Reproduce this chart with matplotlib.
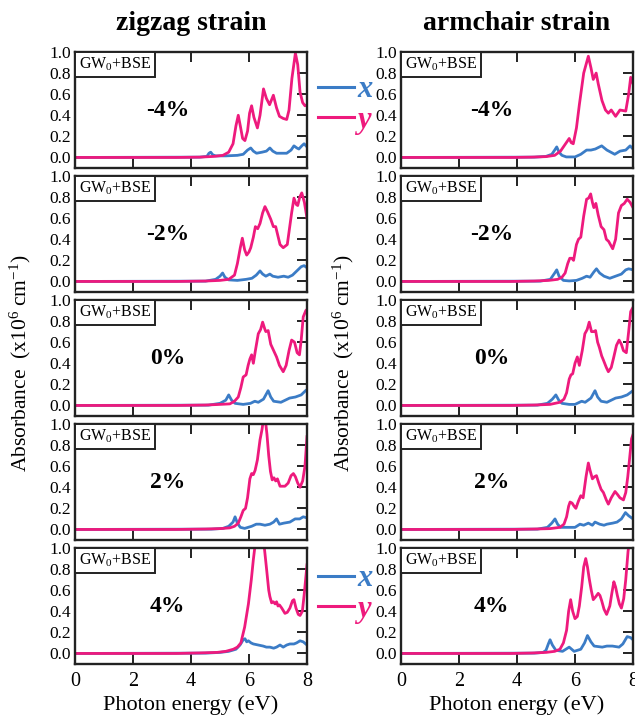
import numpy as np
import matplotlib
matplotlib.use('Agg')
import matplotlib.pyplot as plt
from matplotlib.lines import Line2D
from matplotlib.offsetbox import AnchoredText

plt.rcParams['font.family'] = 'Liberation Serif'
plt.rcParams['mathtext.fontset'] = 'custom'
plt.rcParams['mathtext.rm'] = 'Liberation Serif'
plt.rcParams['mathtext.it'] = 'Liberation Serif:italic'
plt.rcParams['mathtext.bf'] = 'Liberation Serif:bold'

# (energy eV, absorbance)
zz_m4_x = [(0, 0), (4.3, 0.003), (4.55, 0.01), (4.62, 0.04), (4.68, 0.05), (4.75, 0.025), (4.85, 0.015),
           (5.2, 0.015), (5.6, 0.02), (5.8, 0.03), (5.95, 0.07), (6.06, 0.09), (6.15, 0.06), (6.26, 0.04),
           (6.45, 0.05), (6.6, 0.06), (6.72, 0.09), (6.82, 0.06), (6.95, 0.04), (7.3, 0.04), (7.45, 0.07),
           (7.55, 0.11), (7.65, 0.09), (7.72, 0.08), (7.82, 0.11), (7.9, 0.13), (8, 0.10)]
zz_m4_y = [(0, 0), (3.5, 0), (4.3, 0.003), (4.8, 0.01), (5.1, 0.02), (5.3, 0.05), (5.45, 0.13), (5.55, 0.3),
           (5.63, 0.40), (5.7, 0.3), (5.78, 0.18), (5.86, 0.16), (5.95, 0.25), (6.02, 0.42), (6.09, 0.49),
           (6.17, 0.38), (6.29, 0.28), (6.38, 0.4), (6.5, 0.65), (6.6, 0.56), (6.71, 0.50), (6.84, 0.59),
           (6.95, 0.47), (7.05, 0.39), (7.18, 0.37), (7.3, 0.36), (7.38, 0.45), (7.48, 0.75), (7.6, 0.99),
           (7.68, 0.88), (7.76, 0.62), (7.85, 0.52), (7.93, 0.49), (8, 0.5)]

zz_m2_x = [(0, 0), (4.5, 0.003), (4.85, 0.02), (5.0, 0.05), (5.09, 0.08), (5.17, 0.04), (5.3, 0.015),
           (5.6, 0.01), (5.9, 0.02), (6.1, 0.03), (6.25, 0.06), (6.38, 0.10), (6.47, 0.07), (6.58, 0.05),
           (6.72, 0.07), (6.82, 0.05), (7.0, 0.04), (7.2, 0.05), (7.35, 0.04), (7.5, 0.06), (7.65, 0.1),
           (7.8, 0.14), (7.9, 0.15), (8, 0.13)]
zz_m2_y = [(0, 0), (3.5, 0), (4.5, 0.004), (5.0, 0.01), (5.3, 0.02), (5.5, 0.06), (5.6, 0.17), (5.7, 0.32),
           (5.77, 0.41), (5.85, 0.3), (5.92, 0.25), (6.0, 0.28), (6.06, 0.32), (6.15, 0.42), (6.22, 0.52),
           (6.3, 0.5), (6.38, 0.55), (6.47, 0.65), (6.55, 0.71), (6.64, 0.66), (6.75, 0.59), (6.84, 0.52),
           (6.92, 0.52), (7.07, 0.35), (7.18, 0.32), (7.32, 0.35), (7.47, 0.65), (7.55, 0.79), (7.63, 0.73),
           (7.68, 0.72), (7.75, 0.8), (7.82, 0.84), (7.91, 0.75), (8, 0.6)]

zz_0_x = [(0, 0), (4.6, 0.003), (5.0, 0.02), (5.2, 0.05), (5.3, 0.1), (5.4, 0.05), (5.52, 0.02), (5.8, 0.01),
          (6.05, 0.02), (6.2, 0.04), (6.32, 0.03), (6.5, 0.06), (6.6, 0.11), (6.66, 0.14), (6.75, 0.08),
          (6.85, 0.04), (7.1, 0.03), (7.25, 0.05), (7.4, 0.07), (7.6, 0.08), (7.8, 0.1), (7.95, 0.14), (8, 0.15)]
zz_0_y = [(0, 0), (3.5, 0), (4.5, 0.004), (5.0, 0.01), (5.34, 0.015), (5.5, 0.04), (5.63, 0.08), (5.72, 0.17),
          (5.8, 0.27), (5.9, 0.29), (5.97, 0.38), (6.03, 0.44), (6.09, 0.48), (6.15, 0.4), (6.22, 0.52),
          (6.32, 0.68), (6.4, 0.72), (6.47, 0.79), (6.55, 0.72), (6.58, 0.7), (6.66, 0.71), (6.75, 0.58),
          (6.85, 0.52), (6.95, 0.46), (7.05, 0.38), (7.18, 0.32), (7.28, 0.38), (7.38, 0.52), (7.47, 0.62),
          (7.57, 0.6), (7.66, 0.5), (7.74, 0.48), (7.8, 0.62), (7.87, 0.84), (7.96, 0.9), (8, 0.91)]

zz_2_x = [(0, 0), (4.7, 0.003), (5.1, 0.01), (5.3, 0.03), (5.45, 0.07), (5.52, 0.12), (5.6, 0.06), (5.7, 0.02),
          (5.85, 0.01), (6.09, 0.03), (6.25, 0.05), (6.38, 0.05), (6.55, 0.04), (6.72, 0.05), (6.85, 0.07),
          (6.95, 0.1), (7.05, 0.05), (7.2, 0.06), (7.41, 0.07), (7.59, 0.1), (7.75, 0.1), (7.87, 0.12), (8, 0.11)]
zz_2_y = [(0, 0), (3.5, 0), (4.5, 0.004), (5.0, 0.008), (5.34, 0.015), (5.5, 0.03), (5.63, 0.06), (5.72, 0.12),
          (5.8, 0.18), (5.88, 0.2), (5.95, 0.3), (6.03, 0.48), (6.09, 0.53), (6.15, 0.52), (6.21, 0.56),
          (6.29, 0.66), (6.38, 0.85), (6.45, 0.95), (6.5, 1.05), (6.56, 1.05), (6.62, 0.9), (6.68, 0.7),
          (6.74, 0.55), (6.8, 0.47), (6.86, 0.49), (6.92, 0.46), (6.98, 0.48), (7.07, 0.41), (7.24, 0.41),
          (7.35, 0.44), (7.45, 0.51), (7.53, 0.53), (7.6, 0.5), (7.68, 0.44), (7.76, 0.40), (7.85, 0.46),
          (7.93, 0.6), (8, 0.88)]

zz_4_x = [(0, 0), (4.5, 0.003), (5.0, 0.01), (5.3, 0.02), (5.55, 0.04), (5.69, 0.08), (5.8, 0.13), (5.86, 0.14),
          (5.92, 0.11), (5.98, 0.12), (6.07, 0.1), (6.15, 0.09), (6.32, 0.08), (6.49, 0.07), (6.6, 0.06),
          (6.72, 0.06), (6.85, 0.05), (6.95, 0.06), (7.07, 0.08), (7.18, 0.06), (7.3, 0.08), (7.41, 0.09),
          (7.55, 0.09), (7.64, 0.1), (7.76, 0.12), (7.87, 0.11), (8, 0.08)]
zz_4_y = [(0, 0), (3.5, 0), (4.3, 0.005), (4.9, 0.01), (5.2, 0.02), (5.46, 0.04), (5.6, 0.06), (5.72, 0.1),
          (5.85, 0.25), (5.98, 0.47), (6.08, 0.7), (6.15, 0.89), (6.22, 1.05), (6.3, 1.2), (6.45, 1.2),
          (6.53, 1.0), (6.61, 0.79), (6.68, 0.6), (6.72, 0.54), (6.78, 0.48), (6.84, 0.49), (6.9, 0.47),
          (6.95, 0.49), (7.0, 0.45), (7.05, 0.46), (7.13, 0.43), (7.24, 0.38), (7.32, 0.39), (7.41, 0.43),
          (7.5, 0.5), (7.55, 0.51), (7.62, 0.43), (7.7, 0.37), (7.76, 0.36), (7.84, 0.4), (7.9, 0.55), (8, 0.84)]

ac_m4_x = [(0, 0), (4.6, 0.003), (5.0, 0.01), (5.2, 0.03), (5.3, 0.07), (5.37, 0.10), (5.45, 0.05),
           (5.55, 0.02), (5.7, 0.005), (6.0, 0.005), (6.2, 0.03), (6.4, 0.07), (6.55, 0.07), (6.7, 0.08),
           (6.92, 0.11), (7.1, 0.07), (7.37, 0.03), (7.55, 0.06), (7.75, 0.07), (7.9, 0.11), (8, 0.08)]
ac_m4_y = [(0, 0), (3.8, 0), (4.5, 0.003), (5.0, 0.008), (5.3, 0.02), (5.5, 0.06), (5.6, 0.1), (5.7, 0.14),
           (5.8, 0.18), (5.87, 0.14), (5.94, 0.13), (6.05, 0.28), (6.15, 0.5), (6.3, 0.8), (6.46, 0.96),
           (6.55, 0.85), (6.63, 0.74), (6.73, 0.80), (6.8, 0.7), (6.93, 0.54), (7.05, 0.45), (7.15, 0.42),
           (7.25, 0.45), (7.4, 0.39), (7.55, 0.45), (7.75, 0.44), (7.85, 0.6), (7.92, 0.76), (8, 0.7)]

ac_m2_x = [(0, 0), (4.8, 0.003), (5.15, 0.02), (5.3, 0.08), (5.37, 0.11), (5.45, 0.05), (5.6, 0.01),
           (5.8, 0.005), (6.05, 0.01), (6.25, 0.03), (6.4, 0.05), (6.52, 0.04), (6.65, 0.09), (6.74, 0.12),
           (6.85, 0.08), (7.0, 0.05), (7.2, 0.03), (7.4, 0.05), (7.6, 0.07), (7.75, 0.11), (7.85, 0.12), (8, 0.11)]
ac_m2_y = [(0, 0), (3.8, 0), (4.6, 0.004), (5.1, 0.01), (5.4, 0.02), (5.55, 0.04), (5.66, 0.08), (5.75, 0.17),
           (5.82, 0.22), (5.89, 0.22), (5.95, 0.2), (6.05, 0.35), (6.12, 0.4), (6.2, 0.42), (6.3, 0.62),
           (6.4, 0.78), (6.47, 0.79), (6.54, 0.83), (6.6, 0.75), (6.65, 0.70), (6.72, 0.74), (6.8, 0.63),
           (6.9, 0.52), (7.0, 0.49), (7.08, 0.4), (7.16, 0.38), (7.3, 0.31), (7.4, 0.4), (7.5, 0.65),
           (7.6, 0.72), (7.7, 0.74), (7.8, 0.78), (7.9, 0.75), (8, 0.70)]

ac_0_x = [(0, 0), (4.7, 0.003), (5.05, 0.02), (5.22, 0.06), (5.34, 0.1), (5.44, 0.05), (5.55, 0.02), (5.8, 0.01),
          (6.0, 0.01), (6.23, 0.04), (6.35, 0.03), (6.55, 0.07), (6.69, 0.14), (6.78, 0.08), (6.9, 0.04),
          (7.1, 0.03), (7.25, 0.05), (7.4, 0.07), (7.6, 0.08), (7.8, 0.1), (7.95, 0.13), (8, 0.14)]
ac_0_y = [(0, 0), (3.8, 0), (4.6, 0.004), (5.14, 0.01), (5.48, 0.03), (5.62, 0.06), (5.71, 0.12), (5.8, 0.25),
          (5.86, 0.29), (5.92, 0.3), (6.0, 0.4), (6.08, 0.46), (6.15, 0.38), (6.25, 0.52), (6.34, 0.68),
          (6.42, 0.72), (6.49, 0.79), (6.57, 0.7), (6.64, 0.7), (6.71, 0.71), (6.78, 0.6), (6.84, 0.55),
          (6.92, 0.47), (6.98, 0.43), (7.08, 0.36), (7.15, 0.32), (7.25, 0.36), (7.33, 0.45), (7.43, 0.57),
          (7.52, 0.62), (7.6, 0.58), (7.67, 0.52), (7.77, 0.5), (7.85, 0.7), (7.92, 0.89), (8, 0.93)]

ac_2_x = [(0, 0), (4.7, 0.003), (5.05, 0.02), (5.2, 0.06), (5.31, 0.1), (5.4, 0.05), (5.5, 0.02), (5.8, 0.02),
          (6.0, 0.02), (6.17, 0.05), (6.3, 0.04), (6.46, 0.06), (6.6, 0.04), (6.69, 0.07), (6.85, 0.05),
          (7.0, 0.04), (7.1, 0.05), (7.3, 0.06), (7.45, 0.07), (7.6, 0.1), (7.74, 0.16), (7.85, 0.13), (8, 0.10)]
ac_2_y = [(0, 0), (3.8, 0), (4.6, 0.004), (5.14, 0.008), (5.48, 0.02), (5.62, 0.05), (5.71, 0.12), (5.78, 0.22),
          (5.83, 0.26), (5.9, 0.25), (5.97, 0.22), (6.03, 0.2), (6.12, 0.27), (6.2, 0.32), (6.28, 0.3),
          (6.38, 0.5), (6.46, 0.63), (6.52, 0.56), (6.6, 0.48), (6.67, 0.5), (6.74, 0.51), (6.82, 0.44),
          (6.9, 0.38), (6.98, 0.35), (7.08, 0.28), (7.15, 0.24), (7.25, 0.3), (7.38, 0.36), (7.47, 0.33),
          (7.55, 0.3), (7.67, 0.28), (7.75, 0.35), (7.82, 0.5), (7.9, 0.72), (7.95, 0.86), (8, 0.9)]

ac_4_x = [(0, 0), (4.6, 0.003), (4.9, 0.01), (5.0, 0.03), (5.08, 0.09), (5.14, 0.13), (5.22, 0.08), (5.34, 0.03),
          (5.57, 0.02), (5.8, 0.06), (5.97, 0.02), (6.2, 0.04), (6.33, 0.1), (6.43, 0.17), (6.55, 0.11),
          (6.66, 0.07), (6.94, 0.06), (7.1, 0.07), (7.29, 0.07), (7.52, 0.06), (7.65, 0.09), (7.8, 0.16),
          (7.92, 0.15), (8, 0.13)]
ac_4_y = [(0, 0), (3.8, 0), (4.5, 0.004), (5.0, 0.01), (5.3, 0.02), (5.48, 0.04), (5.6, 0.1), (5.71, 0.22),
          (5.78, 0.4), (5.85, 0.51), (5.92, 0.4), (6.0, 0.33), (6.08, 0.35), (6.15, 0.45), (6.23, 0.63),
          (6.3, 0.82), (6.37, 0.9), (6.43, 0.82), (6.49, 0.71), (6.56, 0.6), (6.63, 0.51), (6.72, 0.54),
          (6.8, 0.57), (6.86, 0.55), (6.92, 0.5), (7.0, 0.42), (7.09, 0.37), (7.2, 0.45), (7.27, 0.57),
          (7.34, 0.68), (7.4, 0.63), (7.46, 0.55), (7.53, 0.47), (7.6, 0.43), (7.68, 0.52), (7.75, 0.7),
          (7.83, 0.97), (7.9, 1.1), (8, 1.2)]

strains = ['-4%', '-2%', '0%', '2%', '4%']
zigzag = [(zz_m4_x, zz_m4_y), (zz_m2_x, zz_m2_y), (zz_0_x, zz_0_y), (zz_2_x, zz_2_y), (zz_4_x, zz_4_y)]
armchair = [(ac_m4_x, ac_m4_y), (ac_m2_x, ac_m2_y), (ac_0_x, ac_0_y), (ac_2_x, ac_2_y), (ac_4_x, ac_4_y)]
titles = ['zigzag strain', 'armchair strain']

blue = '#3b7cc6'
pink = '#ee1a7d'

W, H = 635, 716
fig = plt.figure(figsize=(W / 100, H / 100), dpi=100)

col_left = [75, 401]
ax_w = 232
ax_h = 116
tops = [52, 176, 300, 424, 548]
label_x = [0.40, 0.39]

for c, data in enumerate([zigzag, armchair]):
    for r, (cx, cy) in enumerate(data):
        ax = fig.add_axes([col_left[c] / W, 1 - (tops[r] + ax_h) / H, ax_w / W, ax_h / H])
        ex, vx = zip(*cx)
        ey, vy = zip(*cy)
        ax.plot(ex, vx, color=blue, lw=2.0, solid_joinstyle='round')
        ax.plot(ey, vy, color=pink, lw=2.0, solid_joinstyle='round')
        ax.set_xlim(0, 8)
        ax.set_ylim(-0.1, 1.0)
        ax.set_xticks([0, 2, 4, 6, 8])
        ax.set_yticks([0, 0.2, 0.4, 0.6, 0.8, 1.0])
        ax.set_yticklabels(['0.0', '0.2', '0.4', '0.6', '0.8', '1.0'])
        ax.tick_params(direction='in', top=True, right=True, left=False, length=7, width=1.4,
                       labelsize=12.5, pad=3, color='#222222')
        ax.tick_params(axis='x', labelsize=14.5, pad=6, labelbottom=(r == 4))
        for s in ax.spines.values():
            s.set_linewidth(1.7)
            s.set_color('#222222')
        at = AnchoredText('GW$_0$+BSE', loc='upper left', borderpad=0, pad=0.25,
                          prop=dict(size=11.5), frameon=True)
        at.patch.set_linewidth(1.4)
        at.patch.set_edgecolor('#222222')
        at.patch.set_boxstyle('square', pad=0)
        ax.add_artist(at)
        ax.text(label_x[c], 0.5, strains[r], transform=ax.transAxes, ha='center', va='center',
                fontsize=17, fontweight='bold')
        if r == 4:
            ax.set_xlabel('Photon energy (eV)', fontsize=16, labelpad=3)
    fig.text((col_left[c] + ax_w / 2) / W, 1 - 24 / H, titles[c], ha='center', va='center',
             fontsize=20, fontweight='bold')
    fig.text([20, 343][c] / W, 1 - 363 / H, 'Absorbance  (x10$^6$ cm$^{-1}$)', rotation=90,
             ha='center', va='center', fontsize=15.5)

handles = [Line2D([], [], color=blue, lw=2.2), Line2D([], [], color=pink, lw=2.2)]
for yc in [105, 594]:
    fig.legend(handles, ['x', 'y'], loc='center', bbox_to_anchor=(345 / W, 1 - yc / H), frameon=False,
               handlelength=1.2, handletextpad=0.1, labelspacing=0.05, borderpad=0,
               labelcolor='linecolor',
               prop=dict(family='Liberation Serif', weight='bold', style='italic', size=22))

fig.savefig('out.png', dpi=100)
